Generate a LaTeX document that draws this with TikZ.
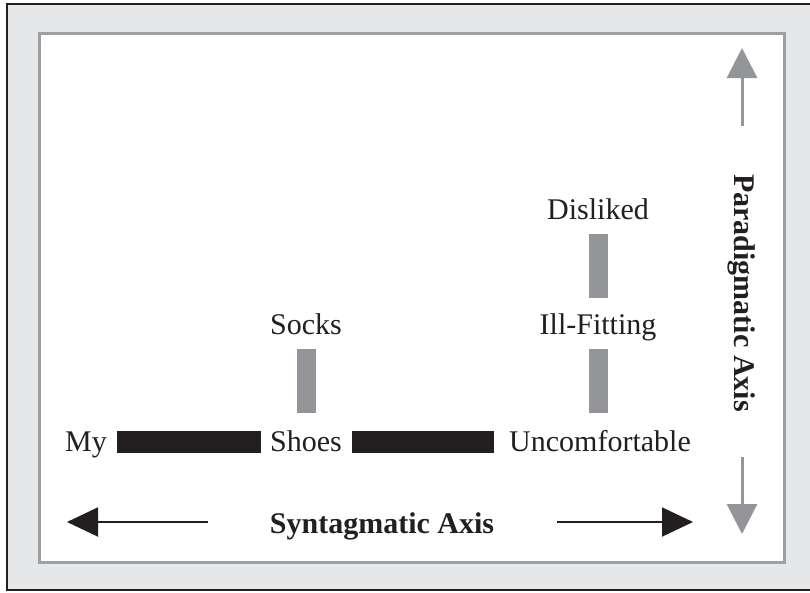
\documentclass[tikz,border=0pt]{standalone}
\usepackage{fontspec}
\setmainfont{Liberation Serif}
\usetikzlibrary{arrows.meta}
\definecolor{ink}{HTML}{231F20}
\definecolor{mat}{HTML}{E6E7E8}
\definecolor{gbar}{HTML}{939598}
\definecolor{frameg}{HTML}{9D9FA2}
\begin{document}
\begin{tikzpicture}[x=1pt,y=-1pt,
  word/.style={text=ink,font=\fontsize{30}{36}\selectfont,inner sep=0pt,anchor=base,text height=20pt,text depth=2pt},
  axislabel/.style={text=ink,font=\fontsize{30}{36}\selectfont\bfseries,inner sep=0pt},
  blackbar/.style={draw=ink,line width=22pt},
  graybar/.style={draw=gbar,line width=19pt},
  harrow/.style={draw=ink,line width=2pt,-{Triangle[length=31pt,width=29pt]}},
  varrow/.style={draw=gbar,line width=3pt,-{Triangle[length=30pt,width=30pt]}}]
\useasboundingbox (0,0) rectangle (810,592);
% frames
\fill[mat] (7,4) rectangle (812,590);
\draw[ink,line width=2pt] (812,4) -- (7,4) -- (7,590) -- (812,590);
\draw[frameg,line width=3pt,fill=white] (39,33) rectangle (784,562);
% words
\node[word] (my) at (86,451) {My};
\node[word] (shoes) at (306,451) {Shoes};
\node[word] (uncomf) at (600,451) {Uncomfortable};
\node[word] (socks) at (306,334) {Socks};
\node[word] (ill) at (598,334) {Ill-Fitting};
\node[word] (disliked) at (598,219) {Disliked};
% bars
\draw[blackbar,shorten <=10pt,shorten >=9pt] (my.east) -- (shoes.west);
\draw[blackbar,shorten <=10pt,shorten >=15pt] (shoes.east) -- (uncomf.west);
\draw[graybar,shorten <=17.5pt,shorten >=13pt] (shoes.north) -- (socks.south);
\draw[graybar,shorten <=17.5pt,shorten >=13pt] (uncomf.north -| ill.north) -- (ill.south);
\draw[graybar,shorten <=16pt,shorten >=13pt] (ill.north) -- (disliked.south);
% axes
\node[axislabel,anchor=base] (synt) at (382,533) {Syntagmatic Axis};
\coordinate (sl0) at (208,522);
\coordinate (sl1) at (67,522);
\coordinate (sr0) at (557,522);
\coordinate (sr1) at (693,522);
\draw[harrow] (sl0) -- (sl1);
\draw[harrow] (sr0) -- (sr1);
\node[axislabel,rotate=-90] (para) at (742,293) {Paradigmatic Axis};
\coordinate (pu0) at (742,126);
\coordinate (pu1) at (742,48);
\coordinate (pd0) at (742,457);
\coordinate (pd1) at (742,534);
\draw[varrow] (pu0) -- (pu1);
\draw[varrow] (pd0) -- (pd1);
\end{tikzpicture}
\end{document}
